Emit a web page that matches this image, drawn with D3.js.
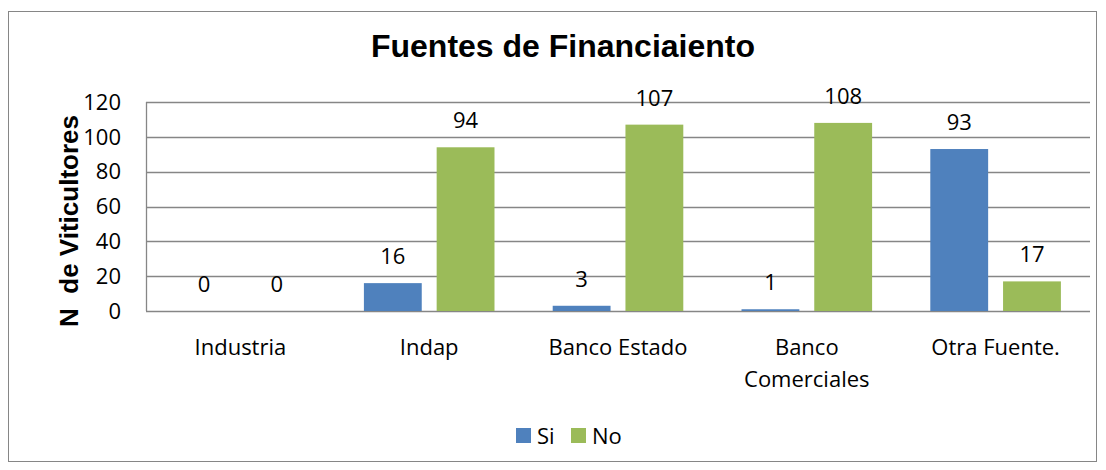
<!DOCTYPE html>
<html>
<head>
<meta charset="utf-8">
<script src="https://cdn.jsdelivr.net/npm/d3@7"></script>
<style>
  body { margin: 0; background: #fff; }
  svg { display: block; }
</style>
</head>
<body>
<div id="chart"></div>
<script>
// values
const categories = ["Industria", "Indap", "Banco Estado", "Banco\nComerciales", "Otra Fuente."];
const siValues = [0, 16, 3, 1, 93];
const noValues = [0, 94, 107, 108, 17];
const seriesNames = ["Si", "No"];
const yTicks = [0, 20, 40, 60, 80, 100, 120];

const W = 1106, H = 470;
const colors = {Si: "#4F81BD", No: "#9BBB59"};
const font = "'Open Sans', sans-serif";
const boldFont = "'Liberation Sans', Arial, sans-serif";

const svg = d3.select("#chart").append("svg")
    .attr("width", W).attr("height", H);

// outer chart border
svg.append("rect")
    .attr("x", 8.5).attr("y", 11.5)
    .attr("width", 1088).attr("height", 450)
    .style("fill", "#fff").style("stroke", "#868686").style("stroke-width", 1);

let plot = {left: 146, right: 1090, top: 102, bottom: 311};

let x = d3.scaleBand()
    .domain(d3.range(categories.length))
    .range([plot.left, plot.right]);

let inner = d3.scaleBand()
    .domain(seriesNames)
    .range([0, x.bandwidth()])
    .paddingInner(0.205)
    .paddingOuter(0.4);

let y = d3.scaleLinear()
    .domain([0, 120])
    .range([plot.bottom, plot.top]);

// gridlines
svg.append("g").selectAll("line")
    .data(yTicks)
    .join("line")
    .attr("x1", plot.left).attr("x2", plot.right)
    .attr("y1", d => Math.round(y(d)) + 0.5)
    .attr("y2", d => Math.round(y(d)) + 0.5)
    .style("stroke", "#868686").style("stroke-width", 1.3);

// left axis line
svg.append("line")
    .attr("x1", plot.left + 0.5).attr("x2", plot.left + 0.5)
    .attr("y1", y(120)).attr("y2", y(0))
    .style("stroke", "#868686").style("stroke-width", 1.3);

// y tick labels
svg.append("g").selectAll("text")
    .data(yTicks)
    .join("text")
    .attr("x", 121).attr("y", d => y(d))
    .attr("dy", "0.35em")
    .attr("text-anchor", "end")
    .style("font-family", font).style("font-size", "22px").style("fill", "#000")
    .text(d => d);

// bars
let series = [
    {name: "Si", values: siValues},
    {name: "No", values: noValues}
];

series.forEach(function(s) {
    let g = svg.append("g");
    g.selectAll("rect")
        .data(s.values)
        .join("rect")
        .attr("x", (d, i) => x(i) + inner(s.name))
        .attr("width", inner.bandwidth())
        .attr("y", d => y(d))
        .attr("height", d => y(0) - y(d))
        .style("fill", colors[s.name]);

    g.selectAll("text")
        .data(s.values)
        .join("text")
        .attr("x", (d, i) => x(i) + inner(s.name) + inner.bandwidth() / 2)
        .attr("y", d => y(d) - 19)
        .attr("text-anchor", "middle")
        .style("font-family", font).style("font-size", "22px").style("fill", "#000")
        .text(d => d);
});

// category labels
let catG = svg.append("g");
categories.forEach(function(c, i) {
    let t = catG.append("text")
        .attr("x", x(i) + x.bandwidth() / 2)
        .attr("y", 355)
        .attr("text-anchor", "middle")
        .style("font-family", font).style("font-size", "22px").style("fill", "#000");
    c.split("\n").forEach(function(line, j) {
        t.append("tspan")
            .attr("x", x(i) + x.bandwidth() / 2)
            .attr("dy", j === 0 ? 0 : 32)
            .text(line);
    });
});

// title
svg.append("text")
    .attr("x", 563).attr("y", 57)
    .attr("text-anchor", "middle")
    .style("font-family", boldFont)
    .style("font-size", "32px").style("font-weight", "bold")
    .text("Fuentes de Financiaiento");

// y axis title
svg.append("text")
    .attr("transform", "translate(78,221) rotate(-90)")
    .attr("text-anchor", "middle")
    .style("font-family", boldFont)
    .style("font-size", "26px").style("font-weight", "bold")
    .attr("xml:space", "preserve")
    .text("N  de Viticultores");

// legend
let legend = svg.append("g");
let legendItems = [{name: "Si", x: 516}, {name: "No", x: 571}];
legendItems.forEach(function(item) {
    legend.append("rect")
        .attr("x", item.x).attr("y", 428)
        .attr("width", 15).attr("height", 15)
        .style("fill", colors[item.name]);
    legend.append("text")
        .attr("x", item.x + 21).attr("y", 436)
        .attr("dy", "0.35em")
        .style("font-family", font).style("font-size", "22px")
        .text(item.name);
});
</script>
</body>
</html>
